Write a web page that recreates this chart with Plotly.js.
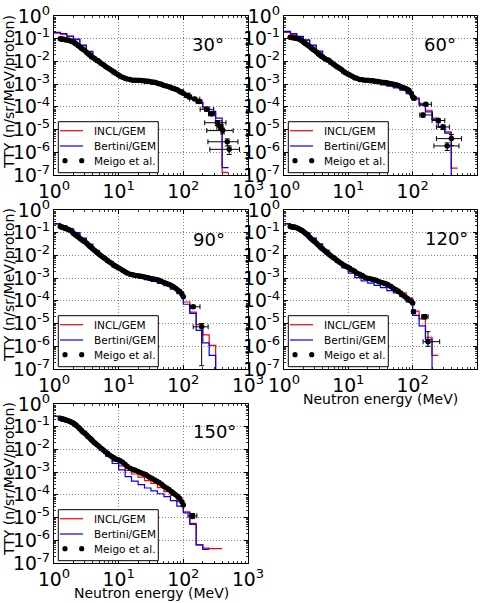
<!DOCTYPE html>
<html>
<head>
<meta charset="utf-8">
<script src="https://cdn.plot.ly/plotly-3.0.1.min.js"></script>
<style>
  html, body { margin: 0; padding: 0; background: #fff; }
  #chart { width: 485px; height: 603px; }
</style>
</head>
<body>
<div id="chart"></div>
<script>
// ---- Thick-target neutron yield, calculated spectra (bin edges in MeV) ----
const binEdges = [1.00, 1.26, 1.58, 2.00, 2.51, 3.16, 3.98, 5.01, 6.31, 7.94,
                  10.0, 12.6, 15.8, 20.0, 25.1, 31.6, 39.8, 50.1, 63.1, 79.4,
                  100, 126, 158, 200, 251, 316, 398, 501, 631];

// TTY per bin (n/sr/MeV/proton); 0 = no neutrons in that bin
const incl30    = [0.174, 0.158, 0.126, 0.0912, 0.0501, 0.0263, 0.0120, 7.1e-3, 4.5e-3, 2.75e-3,
                   1.9e-3, 1.51e-3, 1.35e-3, 1.26e-3, 1.15e-3, 1.02e-3, 8.9e-4, 7.9e-4, 7.1e-4, 5.6e-4,
                   4.0e-4, 2.6e-4, 1.6e-4, 1.0e-4, 5.6e-5, 2.5e-5, 1.3e-7];
const bertini30 = [0.191, 0.166, 0.132, 0.0955, 0.0525, 0.0275, 0.0132, 7.6e-3, 4.8e-3, 2.95e-3,
                   2.09e-3, 1.58e-3, 1.41e-3, 1.26e-3, 1.12e-3, 1.0e-3, 8.9e-4, 7.8e-4, 6.8e-4, 5.4e-4,
                   3.8e-4, 2.5e-4, 1.5e-4, 8.9e-5, 6.3e-5, 3.2e-5, 2.1e-7];

const incl60    = [0.191, 0.158, 0.120, 0.085, 0.0501, 0.0263, 0.0132, 7.6e-3, 4.8e-3, 3.0e-3,
                   2.2e-3, 1.74e-3, 1.48e-3, 1.32e-3, 1.15e-3, 1.0e-3, 8.7e-4, 7.4e-4, 5.8e-4, 4.2e-4,
                   2.5e-4, 1.4e-4, 7.1e-5, 3.2e-5, 1.4e-5, 7.9e-6, 2.0e-7];
const bertini60 = [0.209, 0.166, 0.126, 0.089, 0.0525, 0.0282, 0.0141, 8.3e-3, 5.2e-3, 3.3e-3,
                   2.3e-3, 1.74e-3, 1.45e-3, 1.26e-3, 1.1e-3, 9.3e-4, 8.1e-4, 6.9e-4, 5.4e-4, 3.8e-4,
                   2.24e-4, 1.2e-4, 6.0e-5, 2.8e-5, 1.26e-5, 7.0e-6, 0];

const incl90    = [0.240, 0.190, 0.141, 0.0955, 0.055, 0.0302, 0.0158, 8.3e-3, 5.0e-3, 3.0e-3,
                   2.2e-3, 1.66e-3, 1.32e-3, 1.12e-3, 9.3e-4, 7.9e-4, 6.6e-4, 5.4e-4, 3.8e-4, 2.4e-4,
                   8.9e-5, 3.2e-5, 8.9e-6, 3.2e-6, 1.1e-6, 0];
const bertini90 = [0.251, 0.200, 0.148, 0.100, 0.0575, 0.0316, 0.0166, 8.9e-3, 5.2e-3, 3.2e-3,
                   2.2e-3, 1.58e-3, 1.2e-3, 1.0e-3, 8.5e-4, 7.1e-4, 5.8e-4, 4.7e-4, 3.3e-4, 2.1e-4,
                   7.1e-5, 2.8e-5, 5.0e-6, 1.4e-6, 4.0e-7, 0];

const incl120    = [0.240, 0.190, 0.141, 0.0955, 0.0562, 0.0316, 0.0166, 8.9e-3, 5.2e-3, 3.2e-3,
                    2.0e-3, 1.32e-3, 1.0e-3, 7.9e-4, 6.6e-4, 5.5e-4, 4.2e-4, 3.3e-4, 2.24e-4, 1.32e-4,
                    3.5e-5, 1.6e-5, 2.5e-6, 4.0e-7];
const bertini120 = [0.251, 0.200, 0.148, 0.100, 0.0575, 0.0316, 0.0166, 8.9e-3, 5.0e-3, 2.8e-3,
                    1.66e-3, 1.05e-3, 7.6e-4, 6.0e-4, 4.8e-4, 3.8e-4, 2.8e-4, 2.24e-4, 1.58e-4, 8.9e-5,
                    2.3e-5, 7.9e-6, 2.0e-6, 0];

const incl150    = [0.282, 0.229, 0.166, 0.107, 0.060, 0.0316, 0.0166, 9.5e-3, 5.2e-3, 3.0e-3,
                    1.9e-3, 1.2e-3, 8.3e-4, 6.0e-4, 4.2e-4, 3.2e-4, 2.1e-4, 1.4e-4, 9.5e-5, 5.0e-5,
                    1.8e-5, 5.6e-6, 6.3e-7, 4.5e-7, 4.3e-7, 4.3e-7];
const bertini150 = [0.295, 0.240, 0.174, 0.112, 0.063, 0.033, 0.0178, 9.5e-3, 5.0e-3, 2.4e-3,
                    1.26e-3, 6.3e-4, 4.0e-4, 2.8e-4, 2.0e-4, 1.5e-4, 1.12e-4, 8.3e-5, 5.6e-5, 3.2e-5,
                    1.6e-5, 5.0e-6, 6.3e-7, 4.0e-7];

// ---- Meigo et al. measurements ----
const dataEnergy = [1.25, 1.3, 1.35, 1.4, 1.45, 1.5, 1.6, 1.7, 1.8, 1.9,
                    2.0, 2.1, 2.2, 2.35, 2.5, 2.65, 2.8,
                    3.0, 3.2, 3.4, 3.6, 3.8,
                    4.0, 4.3, 4.6,
                    5.0, 5.4, 5.8,
                    6.2, 6.7,
                    7.2, 7.8,
                    8.4, 9.0, 9.8,
                    10.5, 11.5, 12.5, 13.5,
                    15, 16.5, 18,
                    20, 22, 24, 26, 28,
                    30, 33, 36, 39,
                    42, 46,
                    50, 55,
                    60, 65,
                    70, 76,
                    82, 88,
                    95, 100];

const meigo30 = [0.100, 0.098, 0.095, 0.094, 0.092, 0.090, 0.088, 0.085, 0.080, 0.075,
                 0.070, 0.064, 0.058, 0.050, 0.044, 0.038, 0.034,
                 0.030, 0.025, 0.021, 0.019, 0.016,
                 0.015, 0.013, 0.011,
                 0.0098, 0.0082, 0.0072,
                 0.0062, 0.0053,
                 0.0047, 0.0040,
                 0.0035, 0.0030, 0.0026,
                 0.0023, 0.0020, 0.0018, 0.0017,
                 0.0016, 0.0015, 0.0015,
                 0.00148, 0.00145, 0.0014, 0.00138, 0.00135,
                 0.0013, 0.00125, 0.0012, 0.00112,
                 0.00105, 0.00098,
                 0.00088, 0.00082,
                 0.00076, 0.0007,
                 0.00065, 0.0006,
                 0.00055, 0.00048,
                 0.00043, 0.0004];

const meigo60 = [0.115, 0.113, 0.112, 0.110, 0.109, 0.107, 0.103, 0.097, 0.090, 0.082,
                 0.071, 0.065, 0.059, 0.051, 0.045, 0.039, 0.034,
                 0.030, 0.026, 0.022, 0.019, 0.017,
                 0.0155, 0.0135, 0.012,
                 0.011, 0.0092, 0.0078,
                 0.0068, 0.0059,
                 0.0051, 0.0044,
                 0.0037, 0.0032, 0.0028,
                 0.0025, 0.0022, 0.0019, 0.0018,
                 0.0016, 0.00155, 0.0015,
                 0.00148, 0.00142, 0.0014, 0.00135, 0.0013,
                 0.00126, 0.00122, 0.00118, 0.00114,
                 0.0011, 0.00105,
                 0.0010, 0.00094,
                 0.00088, 0.00078,
                 0.00071, 0.00066,
                 0.0006, 0.00052,
                 0.0004, 0.00028];

const meigo90 = [0.186, 0.180, 0.175, 0.168, 0.162, 0.155, 0.145, 0.135, 0.124, 0.112,
                 0.093, 0.085, 0.076, 0.066, 0.057, 0.050, 0.044,
                 0.040, 0.034, 0.029, 0.025, 0.022,
                 0.019, 0.016, 0.0135,
                 0.0112, 0.0095, 0.0082,
                 0.0071, 0.0060,
                 0.0052, 0.0045,
                 0.0038, 0.0033, 0.0029,
                 0.0026, 0.0022, 0.0019, 0.0017,
                 0.0015, 0.0014, 0.0013,
                 0.00126, 0.0012, 0.00115, 0.0011, 0.00105,
                 0.0010, 0.00095, 0.0009, 0.00085,
                 0.0008, 0.00072,
                 0.00065, 0.00058,
                 0.00052, 0.00047,
                 0.00042, 0.00036,
                 0.0003, 0.00026,
                 0.0002, 0.00015];

const meigo120 = [0.186, 0.183, 0.180, 0.177, 0.175, 0.173, 0.160, 0.148, 0.135, 0.124,
                  0.112, 0.100, 0.089, 0.075, 0.063, 0.054, 0.047,
                  0.040, 0.034, 0.029, 0.025, 0.021,
                  0.019, 0.016, 0.0135,
                  0.0112, 0.0095, 0.0082,
                  0.0071, 0.0060,
                  0.0051, 0.0044,
                  0.0038, 0.0034, 0.0030,
                  0.0027, 0.0023, 0.0020, 0.0017,
                  0.0015, 0.0013, 0.0011,
                  0.0010, 0.00093, 0.00088, 0.00082, 0.00076,
                  0.00069, 0.00064, 0.00059, 0.00055,
                  0.0005, 0.00043,
                  0.00036, 0.00031,
                  0.00026, 0.00022,
                  0.00018, 0.00015,
                  0.00013, 0.00011,
                  0.000095, 0.00008];

const meigo150 = [0.230, 0.225, 0.220, 0.215, 0.210, 0.200, 0.190, 0.180, 0.165, 0.152,
                  0.141, 0.128, 0.115, 0.098, 0.082, 0.070, 0.059,
                  0.051, 0.043, 0.036, 0.031, 0.026,
                  0.023, 0.019, 0.016,
                  0.0135, 0.011, 0.0095,
                  0.0080, 0.0068,
                  0.0057, 0.0049,
                  0.0043, 0.0038, 0.0035,
                  0.0032, 0.0027, 0.0022, 0.0018,
                  0.0015, 0.0013, 0.0012,
                  0.00107, 0.00095, 0.00085, 0.00078, 0.00068,
                  0.0006, 0.00052, 0.00045, 0.0004,
                  0.00035, 0.00029,
                  0.00024, 0.0002,
                  0.00017, 0.00014,
                  0.00012, 0.0001,
                  0.000085, 0.00007,
                  0.00005, 0.000036];

// high-energy points with energy-bin and yield error ranges
const tailE30   = [112, 125, 150, 176, 229, 274, 336, 370, 405, 478, 513];
const tailV30   = [3.2e-4, 2.7e-4, 2.2e-4, 1.7e-4, 7.8e-5, 5.0e-5, 2.0e-5, 1.35e-5, 9.0e-6, 2.9e-6, 1.35e-6];
const tailElo30 = [104, 116, 125, 160, 182, 245, 214, 330, 230, 240, 257];
const tailEhi30 = [120, 134, 180, 194, 295, 305, 457, 412, 590, 700, 740];
const tailYlo30 = [2.9e-4, 2.4e-4, 1.9e-4, 1.45e-4, 6.4e-5, 4.0e-5, 1.5e-5, 1.0e-5, 6.5e-6, 1.9e-6, 8e-7];
const tailYhi30 = [3.5e-4, 3.0e-4, 2.5e-4, 1.95e-4, 9.2e-5, 6.0e-5, 2.5e-5, 1.7e-5, 1.15e-5, 3.9e-6, 1.9e-6];

const tailE60   = [105, 145, 160, 250, 297, 344, 400];
const tailV60   = [2.4e-4, 4.4e-5, 1.3e-4, 2.5e-5, 1.3e-5, 1.9e-6, 4.0e-6];
const tailElo60 = [98, 129, 129, 200, 234, 214, 234];
const tailEhi60 = [112, 204, 195, 316, 372, 525, 575];
const tailYlo60 = [2.1e-4, 3.5e-5, 1.1e-4, 2.0e-5, 1.0e-5, 1.2e-6, 2.0e-6];
const tailYhi60 = [2.7e-4, 5.3e-5, 1.5e-4, 3.0e-5, 1.6e-5, 2.6e-6, 6.0e-6];

const tailE90   = [142, 192];
const tailV90   = [5.5e-5, 7.2e-6];
const tailElo90 = [126, 142];
const tailEhi90 = [181, 242];
const tailYlo90 = [4.7e-5, 1.4e-7];
const tailYhi90 = [6.3e-5, 1.0e-5];

const tailE120   = [103, 154, 173];
const tailV120   = [3.3e-5, 2.0e-5, 1.6e-6];
const tailElo120 = [97, 138, 145];
const tailEhi120 = [110, 174, 263];
const tailYlo120 = [2.8e-5, 1.6e-5, 1.0e-6];
const tailYhi120 = [3.8e-5, 2.5e-5, 4.4e-6];

const tailE150   = [139];
const tailV150   = [1.2e-5];
const tailElo150 = [118];
const tailEhi150 = [162];
const tailYlo150 = [9e-6];
const tailYhi150 = [1.5e-5];

// ---- labels ----
const angleLabels = ['30°', '60°', '90°', '120°', '150°'];
const seriesNames = ['INCL/GEM', 'Bertini/GEM', 'Meigo et al.'];
const seriesColors = ['#ff0000', '#0000ff', '#000000'];
const xTitleText = 'Neutron energy (MeV)';
const yTitleText = 'TTY (n/sr/MeV/proton)';
const xTickText = ['10<sup>0</sup>', '10<sup>1</sup>', '10<sup>2</sup>', '10<sup>3</sup>'];
const yTickText = ['10<sup>-7</sup>', '10<sup>-6</sup>', '10<sup>-5</sup>', '10<sup>-4</sup>',
                   '10<sup>-3</sup>', '10<sup>-2</sup>', '10<sup>-1</sup>', '10<sup>0</sup>'];

// ---- figure construction ----
const FLOOR = 1e-12;          // stand-in for empty bins on a log axis
const W = 485, H = 603;
const px = v => v / W;
const py = v => 1 - v / H;

// Plotly's default log-axis tick text, used to alias our labels onto it
function defaultLogLabel(p) {
  if (p === 0) return '1';
  if (p === 1) return '10';
  return '10<sup>' + (p > 1 ? '' : '\u2212') + Math.abs(p) + '</sup>';
}
function aliasMap(firstPower, texts) {
  const m = {};
  texts.forEach((t, i) => { m[defaultLogLabel(firstPower + i)] = t; });
  return m;
}
const xAlias = aliasMap(0, xTickText);
const yAlias = aliasMap(-7, yTickText);

function logAxis(range, domain, anchor, alias) {
  return {
    type: 'log', range: range, domain: domain, anchor: anchor,
    showline: true, linecolor: '#000', linewidth: 1, mirror: 'allticks',
    ticks: 'inside', ticklen: 4, tickwidth: 1, tickcolor: '#000',
    tickmode: 'linear', tick0: 0, dtick: 1, exponentformat: 'power',
    labelalias: alias,
    tickfont: { size: 15, color: '#000' },
    showgrid: true, gridcolor: '#666', gridwidth: 0.8, griddash: '1px,2px',
    minor: { ticks: 'inside', ticklen: 2, tickwidth: 0.8, tickcolor: '#000', dtick: 'D1', showgrid: false },
    zeroline: false, fixedrange: true
  };
}

// panel boxes in pixels: [left, right], [top, bottom]; label centre
const panels = [
  { incl: incl30,  bert: bertini30,  meigo: meigo30,  tE: tailE30,  tV: tailV30,  tElo: tailElo30,  tEhi: tailEhi30,  tYlo: tailYlo30,  tYhi: tailYhi30,
    xd: [54, 248],  yd: [16, 175],  lab: [208, 44.5] },
  { incl: incl60,  bert: bertini60,  meigo: meigo60,  tE: tailE60,  tV: tailV60,  tElo: tailElo60,  tEhi: tailEhi60,  tYlo: tailYlo60,  tYhi: tailYhi60,
    xd: [284, 477], yd: [16, 175],  lab: [440, 45] },
  { incl: incl90,  bert: bertini90,  meigo: meigo90,  tE: tailE90,  tV: tailV90,  tElo: tailElo90,  tEhi: tailEhi90,  tYlo: tailYlo90,  tYhi: tailYhi90,
    xd: [54, 248],  yd: [210, 369], lab: [209, 239] },
  { incl: incl120, bert: bertini120, meigo: meigo120, tE: tailE120, tV: tailV120, tElo: tailElo120, tEhi: tailEhi120, tYlo: tailYlo120, tYhi: tailYhi120,
    xd: [284, 477], yd: [210, 369], lab: [446, 238] },
  { incl: incl150, bert: bertini150, meigo: meigo150, tE: tailE150, tV: tailV150, tElo: tailElo150, tEhi: tailEhi150, tYlo: tailYlo150, tYhi: tailYhi150,
    xd: [54, 248],  yd: [404, 563], lab: [214, 431] }
];

const traces = [];
const layout = {
  width: W, height: H,
  margin: { l: 0, r: 0, t: 0, b: 0 },
  paper_bgcolor: '#fff', plot_bgcolor: '#fff',
  font: { family: 'DejaVu Sans, sans-serif', color: '#000' },
  showlegend: false,
  annotations: [],
  shapes: []
};

function stepTrace(vals, name, color, xa, ya) {
  const n = vals.length;
  const clean = vals.map(v => (v > 0 ? v : FLOOR));
  return {
    type: 'scatter', mode: 'lines', name: name,
    x: binEdges.slice(0, n + 1), y: clean.concat([clean[n - 1]]),
    line: { color: color, width: 1.2, shape: 'hv' },
    xaxis: xa, yaxis: ya, hoverinfo: 'skip'
  };
}

// boxed key in the lower-left corner of a panel (matplotlib style, two data dots)
function addKey(left, bottom) {
  const bx0 = left + 4.3, bx1 = left + 104.3, by0 = bottom - 2.3, by1 = bottom - 53.3;
  const rows = [bottom - 44.3, bottom - 29, bottom - 14.3];
  layout.shapes.push({ type: 'rect', xref: 'paper', yref: 'paper',
    x0: px(bx0), x1: px(bx1), y0: py(by0), y1: py(by1),
    fillcolor: '#fff', line: { color: '#000', width: 1 }, layer: 'above' });
  [0, 1].forEach(j => {
    layout.shapes.push({ type: 'line', xref: 'paper', yref: 'paper',
      x0: px(left + 6), x1: px(left + 29), y0: py(rows[j]), y1: py(rows[j]),
      line: { color: seriesColors[j], width: 1.2 }, layer: 'above' });
  });
  [left + 11, left + 27.7].forEach(cx => {
    layout.shapes.push({ type: 'circle', xref: 'paper', yref: 'paper',
      x0: px(cx - 2.6), x1: px(cx + 2.6), y0: py(rows[2] - 2.6), y1: py(rows[2] + 2.6),
      fillcolor: seriesColors[2], line: { color: seriesColors[2], width: 0 }, layer: 'above' });
  });
  seriesNames.forEach((nm, j) => {
    layout.annotations.push({ xref: 'paper', yref: 'paper',
      x: px(left + 37.5), y: py(rows[j]), xanchor: 'left', yanchor: 'middle',
      showarrow: false, text: nm, font: { size: 10.5, color: '#000' } });
  });
}

panels.forEach((p, i) => {
  const k = i === 0 ? '' : String(i + 1);
  const xa = 'x' + k, ya = 'y' + k;

  layout['xaxis' + k] = logAxis([0, 3], [px(p.xd[0]), px(p.xd[1])], ya, xAlias);
  layout['yaxis' + k] = logAxis([-7, 0], [py(p.yd[1]), py(p.yd[0])], xa, yAlias);

  traces.push(stepTrace(p.incl, seriesNames[0], seriesColors[0], xa, ya));
  traces.push(stepTrace(p.bert, seriesNames[1], seriesColors[1], xa, ya));

  traces.push({
    type: 'scatter', mode: 'markers', name: seriesNames[2],
    x: dataEnergy.slice(0, p.meigo.length), y: p.meigo,
    marker: { color: seriesColors[2], size: 5.5 },
    error_y: { type: 'percent', value: 15, color: '#000', thickness: 1, width: 1.5 },
    error_x: { type: 'percent', value: 4, color: '#000', thickness: 1, width: 1.5 },
    xaxis: xa, yaxis: ya, hoverinfo: 'skip'
  });

  traces.push({
    type: 'scatter', mode: 'markers', name: seriesNames[2],
    x: p.tE, y: p.tV,
    marker: { color: seriesColors[2], size: 5.5 },
    error_x: { type: 'data', symmetric: false,
               array: p.tE.map((e, j) => p.tEhi[j] - e),
               arrayminus: p.tE.map((e, j) => e - p.tElo[j]),
               color: '#000', thickness: 1, width: 2.5 },
    error_y: { type: 'data', symmetric: false,
               array: p.tV.map((v, j) => p.tYhi[j] - v),
               arrayminus: p.tV.map((v, j) => v - p.tYlo[j]),
               color: '#000', thickness: 1, width: 2.5 },
    xaxis: xa, yaxis: ya, hoverinfo: 'skip'
  });

  addKey(p.xd[0], p.yd[1]);

  layout.annotations.push({
    xref: 'paper', yref: 'paper', x: px(p.lab[0]), y: py(p.lab[1]),
    xanchor: 'center', yanchor: 'middle', showarrow: false,
    text: angleLabels[i], font: { size: 18, color: '#000' }
  });
});

// axis titles: y on the left column, x under the bottom panel of each column
[92, 285, 479].forEach(yc => {
  layout.annotations.push({
    xref: 'paper', yref: 'paper', x: px(9), y: py(yc),
    xanchor: 'center', yanchor: 'middle', showarrow: false, textangle: -90,
    text: yTitleText, font: { size: 14, color: '#000' }
  });
});
[[380.5, 399], [151, 593]].forEach(([xc, yc]) => {
  layout.annotations.push({
    xref: 'paper', yref: 'paper', x: px(xc), y: py(yc),
    xanchor: 'center', yanchor: 'middle', showarrow: false,
    text: xTitleText, font: { size: 14, color: '#000' }
  });
});

Plotly.newPlot('chart', traces, layout, { staticPlot: true, displayModeBar: false });
</script>
</body>
</html>
